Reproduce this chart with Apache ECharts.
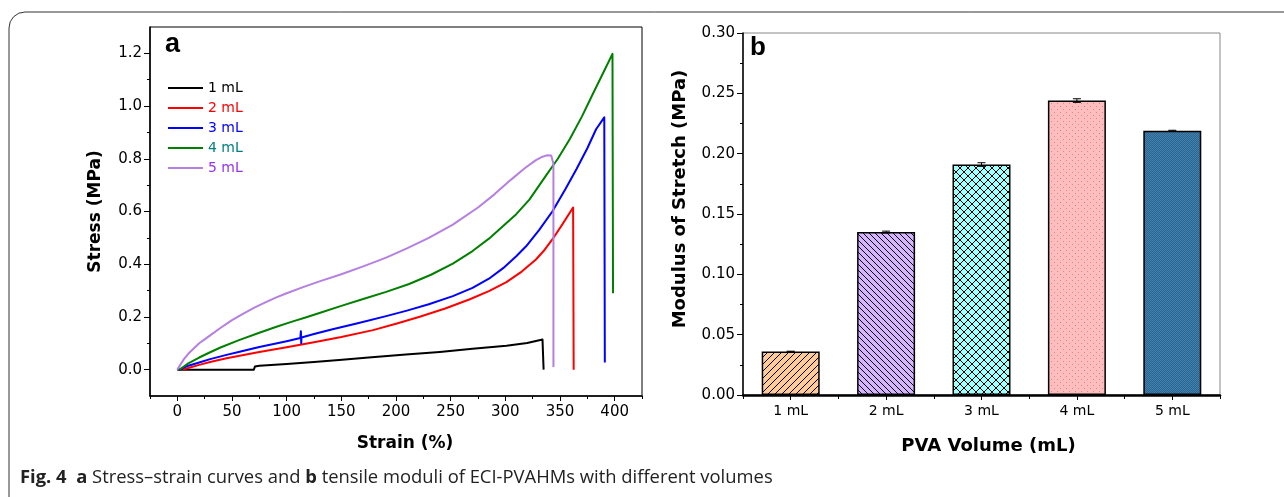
<!DOCTYPE html>
<html>
<head>
<meta charset="utf-8">
<script src="https://cdn.jsdelivr.net/npm/echarts@6/dist/echarts.min.js"></script>
<style>
  html, body { margin: 0; padding: 0; background: #fff; }
  #chart { width: 1284px; height: 497px; }
</style>
</head>
<body>
<div id="chart"></div>
<script>
// ---- (a) stress–strain curves: strain (%) and stress (MPa) per PVA volume ----
const strain1mL = [0, 70, 71, 75, 100, 125, 148, 175, 209, 240, 270, 301, 320, 334, 335, 335];
const stress1mL = [0, 0, 0.012, 0.015, 0.021, 0.029, 0.037, 0.046, 0.057, 0.067, 0.079, 0.091, 0.101, 0.114, 0.112, 0];

const strain2mL = [5, 10, 20, 30, 45, 57, 75, 100, 125, 150, 179, 200, 221, 245, 267, 285, 301, 315, 328, 336, 343, 352, 362, 362.5];
const stress2mL = [0, 0.006, 0.018, 0.029, 0.043, 0.053, 0.067, 0.085, 0.104, 0.124, 0.15, 0.174, 0.2, 0.232, 0.266, 0.298, 0.332, 0.372, 0.418, 0.455, 0.494, 0.55, 0.615, 0];

const strain3mL = [2, 6, 10, 20, 30, 45, 57, 75, 100, 112.5, 113, 113.3, 113.6, 125, 142, 165, 191, 210, 230, 252, 270, 285, 298, 310, 319, 331, 343, 355, 365, 375, 383, 390.5, 391];
const stress3mL = [0, 0.008, 0.015, 0.027, 0.04, 0.056, 0.068, 0.086, 0.108, 0.12, 0.146, 0.1, 0.122, 0.135, 0.153, 0.176, 0.203, 0.224, 0.248, 0.279, 0.31, 0.345, 0.385, 0.43, 0.468, 0.53, 0.6, 0.685, 0.76, 0.84, 0.912, 0.957, 0.027];

const strain4mL = [2, 6, 10, 20, 30, 40, 57, 75, 90, 105, 118, 130, 150, 170, 191, 212, 232, 252, 270, 285, 298, 310, 322, 337, 348, 359, 370, 380, 390, 398, 398.5];
const stress4mL = [0, 0.012, 0.024, 0.046, 0.066, 0.085, 0.113, 0.14, 0.162, 0.182, 0.199, 0.215, 0.242, 0.268, 0.295, 0.325, 0.36, 0.402, 0.45, 0.497, 0.545, 0.59, 0.645, 0.735, 0.8, 0.875, 0.96, 1.046, 1.13, 1.198, 0.29];

const strain5mL = [0, 3, 6, 10, 15, 20, 25, 30, 40, 50, 60, 70, 80, 90, 100, 115, 130, 150, 170, 191, 210, 230, 252, 275, 290, 305, 318, 328, 334, 338, 342, 343.5, 344, 344];
const stress5mL = [0, 0.02, 0.04, 0.06, 0.08, 0.1, 0.115, 0.13, 0.16, 0.188, 0.212, 0.234, 0.254, 0.273, 0.29, 0.313, 0.335, 0.362, 0.392, 0.425, 0.46, 0.5, 0.55, 0.615, 0.665, 0.72, 0.765, 0.795, 0.808, 0.813, 0.812, 0.805, 0.78, 0.01];

const curveNames = ['1 mL', '2 mL', '3 mL', '4 mL', '5 mL'];
const curveColors = ['#000000', '#ff0000', '#0000ff', '#008000', '#b580e0'];
const legendTextColors = ['#000000', '#ff0000', '#0000ff', '#008080', '#9933ee'];

// axis ticks for panel (a)
const strainTicks = [0, 50, 100, 150, 200, 250, 300, 350, 400];
const strainMinorTicks = [-25, 25, 75, 125, 175, 225, 275, 325, 375, 425];
const stressTicks = [0, 0.2, 0.4, 0.6, 0.8, 1.0, 1.2];
const stressMinorTicks = [0.1, 0.3, 0.5, 0.7, 0.9, 1.1];

// ---- (b) modulus of stretch per PVA volume ----
const volumes = ['1 mL', '2 mL', '3 mL', '4 mL', '5 mL'];
const modulus = [0.036, 0.135, 0.191, 0.244, 0.219];
const modulusErr = [0.0003, 0.0008, 0.0015, 0.0015, 0.0004];

// hatch / dot fills for the bars
function makePattern(size, bg, draw) {
  const c = document.createElement('canvas');
  c.width = size; c.height = size;
  const ctx = c.getContext('2d');
  ctx.fillStyle = bg;
  ctx.fillRect(0, 0, size, size);
  draw(ctx, size);
  return { image: c, repeat: 'repeat' };
}
function slash(ctx, s) {
  ctx.strokeStyle = '#000'; ctx.lineWidth = 1;
  for (const k of [-s, 0, s]) { ctx.beginPath(); ctx.moveTo(k, s); ctx.lineTo(k + s, 0); ctx.stroke(); }
}
function backslash(ctx, s) {
  ctx.strokeStyle = '#000'; ctx.lineWidth = 1;
  for (const k of [-s, 0, s]) { ctx.beginPath(); ctx.moveTo(k, 0); ctx.lineTo(k + s, s); ctx.stroke(); }
}
const barFills = [
  makePattern(7, '#ffcc99', slash),
  makePattern(6, '#d6b3ff', backslash),
  makePattern(8, '#a0ffff', (ctx, s) => { slash(ctx, s); backslash(ctx, s); }),
  makePattern(6, '#ffbdbd', (ctx) => {
    ctx.fillStyle = '#c98f8f';
    ctx.fillRect(1, 1, 1, 1); ctx.fillRect(4, 4, 1, 1);
  }),
  makePattern(2, '#2b6692', (ctx) => {
    ctx.fillStyle = '#4380ad';
    ctx.fillRect(0, 0, 1, 1); ctx.fillRect(1, 1, 1, 1);
  })
];

const strainData = [strain1mL, strain2mL, strain3mL, strain4mL, strain5mL];
const stressData = [stress1mL, stress2mL, stress3mL, stress4mL, stress5mL];

const tickFont = 'DejaVu Sans';
const titleStyle = (size, pad) => ({ fontFamily: 'DejaVu Sans', fontWeight: 'bold', fontSize: size, color: '#000', padding: pad });
const axisBlack = (w) => ({ show: true, onZero: false, lineStyle: { color: '#000', width: w } });
const hiddenLine = { show: false, onZero: false };

const chart = echarts.init(document.getElementById('chart'), null, { renderer: 'canvas' });

const option = {
  animation: false,
  backgroundColor: '#fff',
  grid: [
    { left: 150, top: 27, width: 492, height: 369, show: true, borderColor: '#000', borderWidth: 1 },
    { left: 743, top: 33, width: 477, height: 362, show: true, borderColor: '#888', borderWidth: 1 }
  ],
  xAxis: [
    {
      gridIndex: 0, type: 'value', min: -25, max: 425, position: 'bottom',
      axisLine: axisBlack(1.5),
      axisTick: { show: true, customValues: strainTicks, length: 5, lineStyle: { color: '#000', width: 1 } },
      axisLabel: { customValues: strainTicks, fontFamily: tickFont, fontSize: 15, color: '#000', margin: 9 },
      splitLine: { show: false },
      name: 'Strain (%)', nameLocation: 'middle', nameGap: 39, nameTextStyle: titleStyle(17, [0, 0, 0, 18])
    },
    {
      gridIndex: 0, type: 'value', min: -25, max: 425, position: 'bottom',
      axisLine: hiddenLine,
      axisTick: { show: true, customValues: strainMinorTicks, length: 3, lineStyle: { color: '#000', width: 1 } },
      axisLabel: { show: false },
      splitLine: { show: false }
    },
    {
      gridIndex: 1, type: 'category', data: volumes, position: 'bottom',
      axisLine: axisBlack(2.5),
      axisTick: { show: true, alignWithLabel: true, length: 5, lineStyle: { color: '#000', width: 1 } },
      axisLabel: { fontFamily: tickFont, fontSize: 14, color: '#000', margin: 9 },
      name: 'PVA Volume (mL)', nameLocation: 'middle', nameGap: 42, nameTextStyle: titleStyle(18, [0, 0, 0, 14])
    },
    {
      gridIndex: 1, type: 'category', data: volumes, position: 'bottom',
      axisLine: hiddenLine,
      axisTick: { show: true, length: 4, lineStyle: { color: '#000', width: 1 } },
      axisLabel: { show: false }
    }
  ],
  yAxis: [
    {
      gridIndex: 0, type: 'value', min: -0.1, max: 1.3, position: 'left',
      axisLine: axisBlack(1.5),
      axisTick: { show: true, customValues: stressTicks, length: 6, lineStyle: { color: '#000', width: 1 } },
      axisLabel: { customValues: stressTicks, formatter: (v) => v.toFixed(1), fontFamily: tickFont, fontSize: 15, color: '#000', margin: 8 },
      splitLine: { show: false },
      name: 'Stress (MPa)', nameLocation: 'middle', nameGap: 46, nameTextStyle: titleStyle(17, 0)
    },
    {
      gridIndex: 0, type: 'value', min: -0.1, max: 1.3, position: 'left',
      axisLine: hiddenLine,
      axisTick: { show: true, customValues: stressMinorTicks, length: 3, lineStyle: { color: '#000', width: 1 } },
      axisLabel: { show: false },
      splitLine: { show: false }
    },
    {
      gridIndex: 1, type: 'value', min: 0, max: 0.3, interval: 0.05, position: 'left',
      axisLine: axisBlack(1.5),
      axisTick: { show: true, length: 6, lineStyle: { color: '#000', width: 1 } },
      minorTick: { show: true, splitNumber: 2, length: 3, lineStyle: { color: '#000', width: 1 } },
      axisLabel: { formatter: (v) => v.toFixed(2), fontFamily: tickFont, fontSize: 15, color: '#000', margin: 8 },
      splitLine: { show: false },
      name: 'Modulus of Stretch (MPa)', nameLocation: 'middle', nameGap: 54, nameTextStyle: titleStyle(18, [0, 0, 0, 30])
    }
  ],
  legend: {
    orient: 'vertical', left: 168, top: 80, padding: 0,
    icon: 'rect', itemWidth: 35, itemHeight: 2, itemGap: 4,
    textStyle: { fontFamily: tickFont, fontSize: 14, lineHeight: 16 },
    data: curveNames.map((n, i) => ({ name: n, textStyle: { color: legendTextColors[i] } }))
  },
  series: [
    ...curveNames.map((n, i) => ({
      name: n, type: 'line', xAxisIndex: 0, yAxisIndex: 0,
      data: strainData[i].map((s, j) => [s, stressData[i][j]]),
      showSymbol: false, symbol: 'none', smooth: false,
      lineStyle: { color: curveColors[i], width: 2, join: 'round' },
      itemStyle: { color: curveColors[i] }
    })),
    {
      type: 'bar', xAxisIndex: 2, yAxisIndex: 2, barWidth: 58,
      data: modulus.map((v, i) => ({
        value: v,
        itemStyle: { color: barFills[i], borderColor: '#000', borderWidth: 1.5 }
      }))
    },
    {
      type: 'custom', xAxisIndex: 2, yAxisIndex: 2, z: 5,
      data: modulus.map((v, i) => [i, v, modulusErr[i]]),
      renderItem: (params, api) => {
        const x = api.value(0), y = api.value(1), e = api.value(2);
        const top = api.coord([x, y + e]);
        const bot = api.coord([x, y - e]);
        const hw = 4;
        const st = { stroke: '#000', lineWidth: 1 };
        return {
          type: 'group',
          children: [
            { type: 'line', shape: { x1: top[0], y1: top[1], x2: bot[0], y2: bot[1] }, style: st },
            { type: 'line', shape: { x1: top[0] - hw, y1: top[1], x2: top[0] + hw, y2: top[1] }, style: st },
            { type: 'line', shape: { x1: bot[0] - hw, y1: bot[1], x2: bot[0] + hw, y2: bot[1] }, style: st }
          ]
        };
      }
    }
  ],
  graphic: [
    // page frame with a rounded top-left corner
    {
      type: 'polyline', silent: true,
      shape: { points: [[9, 497], [9, 28]] },
      style: { fill: null, stroke: '#333', lineWidth: 1 }
    },
    {
      type: 'arc', silent: true,
      shape: { cx: 25, cy: 28, r: 16, startAngle: Math.PI, endAngle: Math.PI * 1.5 },
      style: { fill: null, stroke: '#333', lineWidth: 1 }
    },
    {
      type: 'polyline', silent: true,
      shape: { points: [[25, 12], [1284, 12]] },
      style: { fill: null, stroke: '#333', lineWidth: 1 }
    },
    {
      type: 'text', left: 165, top: 31, silent: true,
      style: { text: 'a', font: 'bold 27px "Liberation Sans", Arial, sans-serif', fill: '#000' }
    },
    {
      type: 'text', left: 750, top: 35, silent: true,
      style: { text: 'b', font: 'bold 26px "Liberation Sans", Arial, sans-serif', fill: '#000' }
    },
    {
      type: 'text', left: 20, top: 469, silent: true,
      style: {
        text: '{b|Fig. 4}  {b|a} Stress–strain curves and {b|b} tensile moduli of ECI-PVAHMs with different volumes',
        font: '18.4px "Open Sans", sans-serif', fill: '#222',
        rich: { b: { fontWeight: 'bold', fontFamily: 'Open Sans', fontSize: 18.4, fill: '#222' } }
      }
    }
  ]
};

chart.setOption(option);
</script>
</body>
</html>
